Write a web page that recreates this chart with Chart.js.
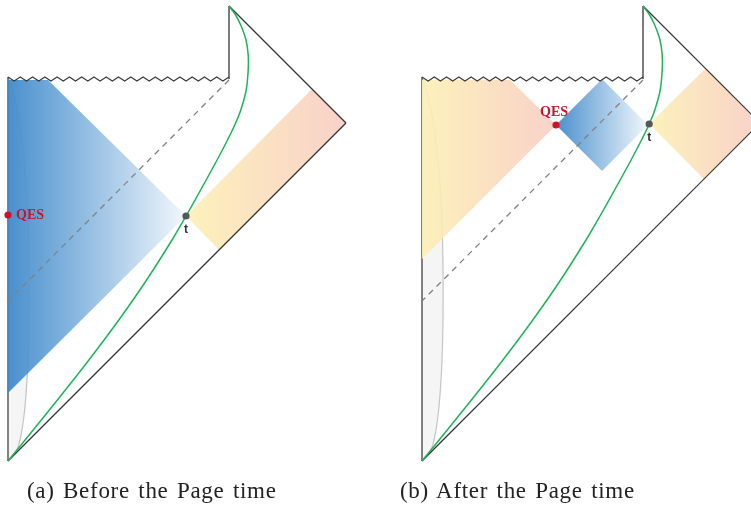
<!DOCTYPE html>
<html>
<head>
<meta charset="utf-8">
<script src="https://cdn.jsdelivr.net/npm/chart.js@4.4.1/dist/chart.umd.min.js"></script>
<style>
  body { margin: 0; background: #fff; }
  #wrap { position: relative; width: 751px; height: 505px; overflow: hidden; }
  canvas { position: absolute; top: 0; }
  .cap { position: absolute; top: 479px; font: 23px "Liberation Serif", serif; letter-spacing: 0.7px;
         word-spacing: 2px; line-height: 23px; color: #222; white-space: nowrap; }
</style>
</head>
<body>
<div id="wrap">
  <canvas id="ca" style="left:0;width:375px;height:505px" width="375" height="505"></canvas>
  <canvas id="cb" style="left:375px;width:376px;height:505px" width="376" height="505"></canvas>
  <div class="cap" style="left:27px">(a) Before the Page time</div>
  <div class="cap" style="left:400px">(b) After the Page time</div>
</div>
<script>
// diagram units, origin at the bottom tip, y pointing up
const leftEdge    = [[0, 0], [0, 384]];
const singularity = [[0, 382], [221, 382]];
const stub        = [[221, 382], [221, 455]];
const futureEdge  = [[221, 455], [338, 338]];
const pastEdge    = [[338, 338], [0, 0]];
const horizon     = [[221, 381], [0, 160]];
const bathCurve   = [[221, 455], [227, 447], [232.7, 436], [238, 421], [240.2, 406], [240.2, 391],
                     [238.2, 371], [232.8, 351], [227.2, 337], [219.5, 321], [209.1, 301], [192.6, 271],
                     [178, 245], [164, 221], [138.6, 181], [110.8, 141], [80.9, 101], [49.4, 61],
                     [17.1, 21], [0, 0]];
const cutoffCurve = [[0, 384], [3, 376], [7, 361], [12, 334], [17, 291], [20, 241], [21, 191], [21, 141],
                     [20, 101], [18, 66], [15.5, 41], [12, 21], [8, 9], [0, 0]];

// (a) before the Page time
const wedgeA = [[0, 381], [40, 381], [178, 245], [0, 68]];
const radA   = [[178, 245], [304, 372], [338, 338], [211, 211]];
const qesA   = [0, 246];
const tA     = [178, 245];

// (b) after the Page time
const islandB = [[0, 381], [88, 381], [134, 336], [0, 202]];
const wedgeB  = [[134, 336], [180, 382], [226, 336], [180, 290]];
const radB    = [[227.2, 337], [284, 393], [338, 338], [282, 282]];
const qesB    = [134, 336];
const tB      = [227.2, 337];

const pts = a => a.map(([x, y]) => ({x, y}));

function sweep(c0, c1) {
  return ctx => {
    const chart = ctx.chart;
    if (!chart.chartArea || !ctx.dataset) return c0;
    const xs = ctx.dataset.data.map(p => p.x);
    const sx = chart.scales.x;
    const g = chart.ctx.createLinearGradient(sx.getPixelForValue(Math.min(...xs)), 0,
                                             sx.getPixelForValue(Math.max(...xs)), 0);
    g.addColorStop(0, c0);
    g.addColorStop(1, c1);
    return g;
  };
}

const BLUE = ['rgba(60,136,202,0.93)', 'rgba(240,246,252,0.93)'];
const WARM = ['rgba(253,240,180,0.9)', 'rgba(248,204,196,0.9)'];

function line(data, color, width, order, extra) {
  return Object.assign({data: pts(data), borderColor: color, borderWidth: width, pointRadius: 0,
    showLine: true, fill: false, tension: 0, order}, extra || {});
}
function region(data, colors, order, extra) {
  return Object.assign({data: pts(data), borderWidth: 0, pointRadius: 0, showLine: true, fill: 'shape',
    backgroundColor: sweep(colors[0], colors[1]), tension: 0, order}, extra || {});
}
function dot(p, color, tag) {
  return {data: pts([p]), showLine: false, pointRadius: 3.6, pointBorderWidth: 0,
    pointBackgroundColor: color, order: 0, tag};
}

const marks = {
  id: 'marks',
  afterDatasetsDraw(chart) {
    const {ctx, scales: {x, y}} = chart;
    chart.data.datasets.forEach(ds => {
      if (ds.zigzag) {
        const [a, b] = ds.data;
        const x0 = x.getPixelForValue(a.x), x1 = x.getPixelForValue(b.x), yy = y.getPixelForValue(a.y);
        const n = ds.zigzag.teeth * 2, amp = ds.zigzag.amp;
        ctx.save();
        ctx.beginPath();
        for (let i = 0; i <= n; i++) {
          const px = x0 + (x1 - x0) * i / n, py = yy + (i % 2 ? amp : -amp);
          i ? ctx.lineTo(px, py) : ctx.moveTo(px, py);
        }
        ctx.strokeStyle = '#3a3a3a';
        ctx.lineWidth = 1.1;
        ctx.stroke();
        ctx.restore();
      }
      if (ds.tag) {
        const p = ds.data[0], t = ds.tag;
        ctx.save();
        ctx.font = t.font;
        ctx.fillStyle = t.color;
        ctx.textAlign = t.align;
        ctx.textBaseline = 'middle';
        ctx.fillText(t.text, x.getPixelForValue(p.x) + t.dx, y.getPixelForValue(p.y) + t.dy);
        ctx.restore();
      }
    });
  }
};

function skeleton() {
  return [
    region(cutoffCurve, ['#f5f5f5', '#f5f5f5'], 20, {tension: 0.3}),
    line(cutoffCurve, '#c4c4c4', 1.2, 19, {tension: 0.3}),
    line(leftEdge, '#5a5a5a', 1.5, 18),
    line(horizon, '#808080', 1.3, 6, {borderDash: [6, 5]}),
    line(stub, '#7c7c7c', 2, 4),
    line(futureEdge, '#333', 1.2, 4),
    line(pastEdge, '#333', 1.2, 4),
    line(bathCurve, '#1fb25a', 1.5, 3, {tension: 0.3}),
    {data: pts(singularity), showLine: false, pointRadius: 0, order: 2, zigzag: {teeth: 18, amp: 2}}
  ];
}

const RED = '#c8152f';
const qesFont = 'bold 14px "Liberation Serif", serif';
const tFont = 'bold 12px "Liberation Sans", sans-serif';

function panel(id, xMin, width, extra) {
  new Chart(document.getElementById(id), {
    type: 'line',
    data: {datasets: skeleton().concat(extra)},
    options: {
      responsive: false,
      animation: false,
      events: [],
      layout: {padding: 0, autoPadding: false},
      scales: {
        x: {type: 'linear', min: xMin, max: xMin + width, display: false},
        y: {type: 'linear', min: -44, max: 461, display: false}
      },
      plugins: {legend: {display: false}, tooltip: {enabled: false}}
    },
    plugins: [marks]
  });
}

panel('ca', -8, 375, [
  region(wedgeA, BLUE, 10),
  region(radA, WARM, 10),
  dot(qesA, RED, {text: 'QES', dx: 8, dy: 0, align: 'left', color: RED, font: qesFont}),
  dot(tA, '#575757', {text: 't', dx: 0, dy: 14, align: 'center', color: '#333', font: tFont})
]);

panel('cb', -47, 376, [
  region(islandB, WARM, 10),
  region(wedgeB, BLUE, 10),
  region(radB, WARM, 10),
  dot(qesB, RED, {text: 'QES', dx: -2, dy: -13, align: 'center', color: RED, font: qesFont}),
  dot(tB, '#575757', {text: 't', dx: 0, dy: 14, align: 'center', color: '#333', font: tFont})
]);
</script>
</body>
</html>
